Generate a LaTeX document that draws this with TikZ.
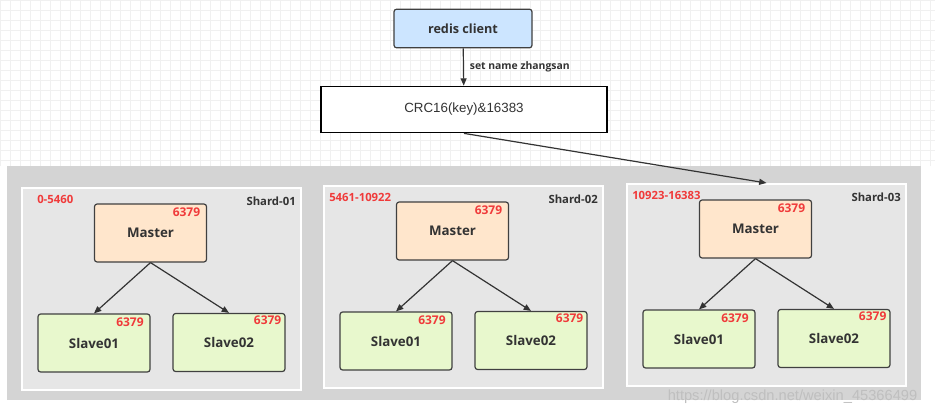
\documentclass[tikz,border=0pt]{standalone}
\usepackage{fontspec}
\setmainfont{Open Sans}
\newfontfamily\plainfont{Liberation Sans}
\usetikzlibrary{positioning,arrows.meta,backgrounds}
\definecolor{clientblue}{HTML}{CCE5FF}
\definecolor{masterorange}{HTML}{FFE6CC}
\definecolor{slavegreen}{HTML}{E8F8CD}
\definecolor{panelgray}{HTML}{D4D4D4}
\definecolor{shardgray}{HTML}{E6E6E6}
\definecolor{portred}{HTML}{F03A3A}
\definecolor{textdark}{HTML}{333333}

\begin{document}
\begin{tikzpicture}[
    x=0.75pt,y=-0.75pt,
    every node/.style={text=textdark,font=\bfseries},
    box/.style={draw=black!75,line width=0.9pt,rounded corners=2pt,minimum width=84pt,minimum height=43.5pt,font=\bfseries\fontsize{10}{12}\selectfont},
    master/.style={box,fill=masterorange},
    slave/.style={box,fill=slavegreen},
    port/.style={text=portred,font=\bfseries\fontsize{9}{10}\selectfont,inner sep=0pt},
    tag/.style={font=\bfseries\fontsize{8.5}{10}\selectfont,inner sep=0pt},
    shard/.style={draw=white,line width=1.5pt,fill=shardgray,minimum width=209pt,minimum height=151.5pt},
    arr/.style={-{Triangle[length=5.5pt,width=4.5pt]},draw=black!80,line width=0.9pt}
  ]
  \useasboundingbox[fill=white] (0,0) rectangle (935,414);
  \draw[gray!12,step=7.5pt] (0,0) grid (935,166);
  \fill[panelgray] (7,166) rectangle (921,400);

  \node[draw=black!75,line width=0.9pt,rounded corners=2pt,fill=clientblue,minimum width=103.5pt,minimum height=29pt,font=\bfseries\fontsize{9.5}{11}\selectfont] (client) at (463,28.5) {redis client};
  \node[draw=black,line width=0.8pt,fill=white,minimum width=214.5pt,minimum height=35pt,font=\plainfont\fontsize{10}{12}\selectfont] (crc) at (464,109.5) {CRC16(key)\&16383};
  \draw[arr] (client) -- node[right=1pt,font=\bfseries\fontsize{7.8}{9}\selectfont] (cmd) {set name zhangsan} (crc);

  \foreach \i/\dx/\dy/\rx/\range in {1/0/0/37/0-5460, 2/302/-2/27/5461-10922, 3/605/-4/27/10923-16383} {
    \begin{scope}[shift={(\dx,\dy)}]
      \node[shard] (shard\i) at (161.5,289) {};
      \node[tag,text=portred,anchor=west] (range\i) at (\rx,199) {\range};
      \node[tag,anchor=east] (name\i) at (296,201) {Shard-0\i};
      \node[master] (m\i) at (150.5,233) {Master};
      \node[slave] (sa\i) at (94,343) {Slave01};
      \node[slave] (sb\i) at (229,342.5) {Slave02};
      \node[port,anchor=north east] (pm\i) at ([xshift=-5pt,yshift=-3pt]m\i.north east) {6379};
      \node[port,anchor=north east] (psa\i) at ([xshift=-5pt,yshift=-3pt]sa\i.north east) {6379};
      \node[port,anchor=north east] (psb\i) at ([xshift=-3pt,yshift=-2pt]sb\i.north east) {6379};
      \draw[arr] (m\i.south) -- (sa\i.north);
      \draw[arr] (m\i.south) -- (sb\i.north);
    \end{scope}
  }
  \draw[arr] (crc.south) -- (shard3.north);

  \node[font=\plainfont\fontsize{11}{13}\selectfont,text=gray!50,anchor=east] (mark) at (922,397) {https://blog.csdn.net/weixin\_45366499};
\end{tikzpicture}
\end{document}
